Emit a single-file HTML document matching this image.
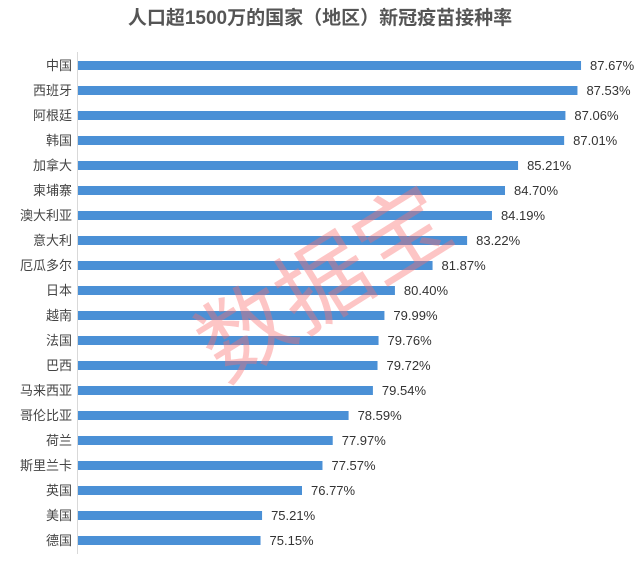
<!DOCTYPE html>
<html><head><meta charset="utf-8"><style>
body{margin:0;background:#fff;width:641px;height:561px;overflow:hidden;font-family:"Liberation Sans","Noto Sans CJK SC",sans-serif;}
</style></head><body>
<svg width="641" height="561" xmlns="http://www.w3.org/2000/svg" font-family="Liberation Sans, Noto Sans CJK SC, sans-serif">
<text x="320" y="24" text-anchor="middle" font-size="19" font-weight="bold" fill="#555">人口超1500万的国家（地区）新冠疫苗接种率</text>
<line x1="77.5" y1="52" x2="77.5" y2="554" stroke="#d9d9d9" stroke-width="1"/>
<g id="bars" font-size="13" fill="#333"></g>
<text x="325" y="315" text-anchor="middle" font-size="92" fill="rgba(250,110,110,0.4)" transform="rotate(-32 325 285)">数据宝</text>
</svg>
<script>
var d=[["中国",87.67],["西班牙",87.53],["阿根廷",87.06],["韩国",87.01],["加拿大",85.21],["柬埔寨",84.70],["澳大利亚",84.19],["意大利",83.22],["厄瓜多尔",81.87],["日本",80.40],["越南",79.99],["法国",79.76],["巴西",79.72],["马来西亚",79.54],["哥伦比亚",78.59],["荷兰",77.97],["斯里兰卡",77.57],["英国",76.77],["美国",75.21],["德国",75.15]];
var g=document.getElementById("bars"),s="";
d.forEach(function(r,i){var cy=65.5+i*25;var x2=302+(r[1]-76.77)*25.6;
s+='<text x="72" y="'+(cy+4.5)+'" text-anchor="end" fill="#444">'+r[0]+'</text>';
s+='<rect x="78" y="'+(cy-4.5)+'" width="'+(x2-78)+'" height="9" fill="#4a90d6"/>';
s+='<text x="'+(x2+9)+'" y="'+(cy+4.5)+'" fill="#333">'+r[1].toFixed(2)+'%</text>';});
g.innerHTML=s;
</script>
</body></html>
